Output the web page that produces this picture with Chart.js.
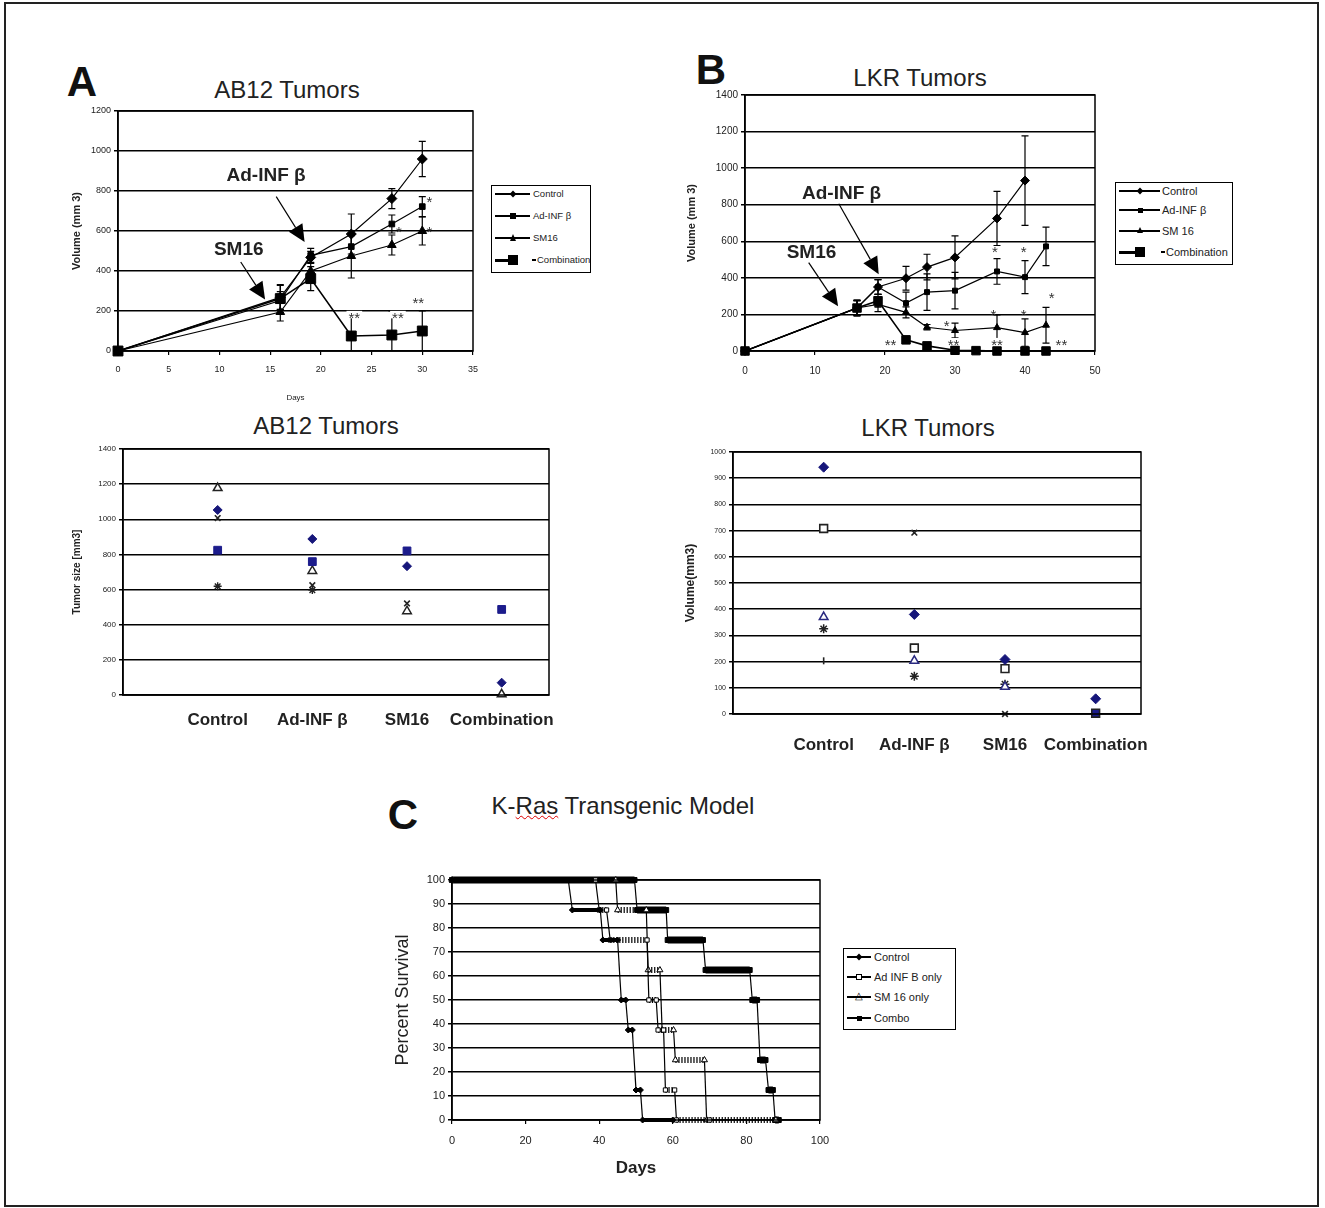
<!DOCTYPE html>
<html><head><meta charset="utf-8">
<script src="https://cdn.jsdelivr.net/npm/chart.js@4.4.1/dist/chart.umd.min.js"></script>
<style>
html,body{margin:0;padding:0;background:#fff;}
#page{position:relative;width:1325px;height:1208px;overflow:hidden;font-family:"Liberation Sans",Arial,sans-serif;color:#111;}
.frame{position:absolute;left:4px;top:2px;width:1311px;height:1201px;border:2px solid #222;}
canvas{position:absolute;}
.t{position:absolute;white-space:nowrap;transform:translate(-50%,-50%);line-height:1;}
.letter{font-weight:bold;font-size:42px;color:#111;}
.title{font-size:24px;color:#222;}
.legend{position:absolute;border:1.5px solid #000;background:#fff;box-sizing:border-box;}
.ln{position:absolute;background:#000;}
.mk{position:absolute;box-sizing:border-box;}
.lbl{position:absolute;white-space:nowrap;transform:translateY(-50%);line-height:1;color:#222;}
</style></head>
<body><div id="page">
<div class="frame"></div>
<div class="t letter" style="left:82px;top:82px">A</div>
<div class="t title" style="left:287px;top:90px">AB12 Tumors</div>
<div class="t letter" style="left:711px;top:70px">B</div>
<div class="t title" style="left:920px;top:78px">LKR Tumors</div>
<div class="t title" style="left:326px;top:426px">AB12 Tumors</div>
<div class="t title" style="left:928px;top:428px">LKR Tumors</div>
<div class="t letter" style="left:403px;top:815px">C</div>
<div class="t title" style="left:623px;top:806px">K-<span style="text-decoration:underline wavy #d00;text-decoration-thickness:1px;">Ras</span> Transgenic Model</div>
</div>
<script>
// ================= DATA =================
// Panel A (top): AB12 tumor growth, days vs volume (mm3)
const abDays = [0, 16, 19, 23, 27, 30];
const abControl = [0, 268, 468, 585, 762, 960];
const abControlErr = [0, 60, 30, 100, 50, 88];
const abAdInf = [0, 252, 478, 522, 635, 722];
const abAdInfErr = [0, 45, 35, 55, 45, 50];
const abSM16 = [0, 195, 400, 475, 530, 600];
const abSM16Err = [0, 45, 40, 110, 50, 70];
const abCombo = [0, 262, 362, 75, 80, 100];
const abComboErr = [0, 70, 60, 120, 120, 100];
const abStars = [
  {x: 30.7, y: 764, t: '*'}, {x: 27.7, y: 615, t: '*'}, {x: 30.7, y: 615, t: '*'},
  {x: 23.3, y: 182, t: '**'}, {x: 27.6, y: 182, t: '**'}, {x: 29.6, y: 259, t: '**'}
];
const abArrows = [
  {text: 'Ad-INF β', tx: 14.6, ty: 875, x1: 15.6, y1: 772, x2: 18.4, y2: 545},
  {text: 'SM16', tx: 11.9, ty: 505, x1: 12.1, y1: 445, x2: 14.5, y2: 258}
];

// Panel B (top): LKR tumor growth
const lkrControlDays = [0, 16, 19, 23, 26, 30, 36, 40];
const lkrControl = [0, 235, 350, 398, 459, 512, 725, 932];
const lkrControlErr = [0, 45, 40, 65, 70, 118, 148, 245];
const lkrAdInfDays = [0, 16, 19, 23, 26, 30, 36, 40, 43];
const lkrAdInf = [0, 235, 350, 262, 322, 330, 435, 404, 572];
const lkrAdInfErr = [0, 40, 40, 60, 100, 100, 70, 90, 105];
const lkrSM16Days = [0, 16, 19, 23, 26, 30, 36, 40, 43];
const lkrSM16 = [0, 235, 255, 211, 130, 112, 128, 101, 141];
const lkrSM16Err = [0, 40, 40, 30, 15, 40, 70, 75, 98];
const lkrComboDays = [0, 16, 19, 23, 26, 30, 33, 36, 40, 43];
const lkrCombo = [0, 235, 275, 61, 28, 4, 2, 0, 0, 0];
const lkrComboErr = [0, 40, 35, 0, 0, 0, 0, 0, 0, 0];
const lkrStars = [
  {x: 35.7, y: 560, t: '*'}, {x: 39.8, y: 560, t: '*'}, {x: 43.8, y: 308, t: '*'},
  {x: 28.8, y: 156, t: '*'}, {x: 35.5, y: 216, t: '*'}, {x: 39.8, y: 216, t: '*'},
  {x: 20.8, y: 51, t: '**'}, {x: 29.8, y: 51, t: '**'}, {x: 36, y: 51, t: '**'}, {x: 45.2, y: 51, t: '**'}
];
const lkrArrows = [
  {text: 'Ad-INF β', tx: 13.8, ty: 860, x1: 13.4, y1: 805, x2: 19.1, y2: 420},
  {text: 'SM16', tx: 9.5, ty: 535, x1: 9.1, y1: 483, x2: 13.3, y2: 245}
];

// Bottom scatter panels: individual tumors per group
const groups = ['Control', 'Ad-INF β', 'SM16', 'Combination'];
const abMouseDiamond = [1053, 888, 733, 70];
const abMouseSquare = [824, 759, 820, 487];
const abMouseTriangle = [1178, 706, 477, 4];
const abMouseCross = [1007, 625, 521, null];
const abMouseStar = [619, 597, null, null];

const lkrMouseDiamond = [942, 380, 208, 58];
const lkrMouseSquare = [708, 252, 173, 3];
const lkrMouseTriangle = [370, 203, 104, null];
const lkrMouseCross = [null, 692, 0, null];
const lkrMouseStar = [325, 144, 114, null];
const lkrMouseBar = [203, null, null, null];

// Panel C: K-Ras survival (percent) vs days
const krasControlDays = [0, 31.6, 32.7, 40.3, 41, 45, 46, 47.2, 47.9, 49, 50, 51.2, 51.8, 60];
const krasControl = [100, 100, 87.5, 87.5, 75, 75, 50, 50, 37.5, 37.5, 12.5, 12.5, 0, 0];
const krasAdInfDays = [0, 39, 40, 42, 43, 53, 53.5, 55.5, 56, 57.5, 58, 60.5, 61, 70];
const krasAdInf = [100, 100, 87.5, 87.5, 75, 75, 50, 50, 37.5, 37.5, 12.5, 12.5, 0, 0];
const krasSM16Days = [0, 44.5, 45, 52.8, 53.3, 56.5, 57.1, 60.2, 60.7, 68.6, 69.2, 88];
const krasSM16 = [100, 100, 87.5, 87.5, 62.5, 62.5, 37.5, 37.5, 25, 25, 0, 0];
const krasComboDays = [0, 49.6, 50.3, 58.2, 58.6, 68.2, 68.9, 80.9, 81.6, 82.9, 83.7, 85.2, 86, 87.2, 87.8, 88.8];
const krasCombo = [100, 100, 87.5, 87.5, 75, 75, 62.5, 62.5, 50, 50, 25, 25, 12.5, 12.5, 0, 0];

// ================= RENDERING =================
Chart.defaults.font.family = '"Liberation Sans", Arial, sans-serif';
Chart.defaults.color = '#222';
Chart.defaults.animation = false;
const FONT = '"Liberation Sans", Arial, sans-serif';
const page = document.getElementById('page');

const extras = {
  id: 'extras',
  beforeDatasetsDraw(chart, args, o) {
    if (!o || !o.errors) return;
    const {ctx, chartArea: ca} = chart; const xs = chart.scales.x, ys = chart.scales.y;
    ctx.save(); ctx.beginPath(); ctx.rect(ca.left, ca.top - 3, ca.width, ca.height + 3); ctx.clip();
    ctx.strokeStyle = '#000'; ctx.lineWidth = 1.2;
    o.errors.forEach((err, di) => {
      if (!err) return;
      chart.data.datasets[di].data.forEach((p, i) => {
        const e = err[i]; if (!e || p.y == null) return;
        const px = xs.getPixelForValue(p.x);
        const yt = ys.getPixelForValue(p.y + e), yb = ys.getPixelForValue(p.y - e);
        const c = 3.5;
        ctx.beginPath();
        ctx.moveTo(px, yt); ctx.lineTo(px, yb);
        ctx.moveTo(px - c, yt); ctx.lineTo(px + c, yt);
        ctx.moveTo(px - c, yb); ctx.lineTo(px + c, yb);
        ctx.stroke();
      });
    });
    ctx.restore();
  },
  afterDatasetsDraw(chart, args, o) {
    if (!o) return;
    const {ctx} = chart; const xs = chart.scales.x, ys = chart.scales.y;
    (o.stars || []).forEach(s => {
      const size = 15;
      ctx.save();
      ctx.font = size + 'px ' + FONT; ctx.textAlign = 'center'; ctx.textBaseline = 'alphabetic';
      const px = xs.getPixelForValue(s.x), py = ys.getPixelForValue(s.y);
      if (s.t.length > 1) {
        const w = ctx.measureText(s.t).width + 4;
        ctx.fillStyle = '#fff'; ctx.fillRect(px - w / 2, py - 0.25 * size, w, 0.5 * size);
      }
      ctx.fillStyle = '#333'; ctx.fillText(s.t, px, py + 0.58 * size);
      ctx.restore();
    });
    (o.arrows || []).forEach(a => {
      const x1 = xs.getPixelForValue(a.x1), y1 = ys.getPixelForValue(a.y1);
      const x2 = xs.getPixelForValue(a.x2), y2 = ys.getPixelForValue(a.y2);
      const ang = Math.atan2(y2 - y1, x2 - x1), hl = 17, hw = 8;
      const bx = x2 - hl * Math.cos(ang), by = y2 - hl * Math.sin(ang);
      ctx.save(); ctx.strokeStyle = '#000'; ctx.fillStyle = '#000'; ctx.lineWidth = 1.2;
      ctx.beginPath(); ctx.moveTo(x1, y1); ctx.lineTo(bx, by); ctx.stroke();
      ctx.beginPath(); ctx.moveTo(x2, y2);
      ctx.lineTo(bx + hw * Math.sin(ang), by - hw * Math.cos(ang));
      ctx.lineTo(bx - hw * Math.sin(ang), by + hw * Math.cos(ang));
      ctx.closePath(); ctx.fill();
      ctx.font = 'bold 19px ' + FONT; ctx.textAlign = 'center'; ctx.textBaseline = 'middle'; ctx.fillStyle = '#222';
      ctx.fillText(a.text, xs.getPixelForValue(a.tx), ys.getPixelForValue(a.ty));
      ctx.restore();
    });
  },
  afterDraw(chart) {
    const {ctx, chartArea: ca} = chart;
    ctx.save(); ctx.strokeStyle = '#000'; ctx.lineWidth = 1.5;
    ctx.strokeRect(ca.left, ca.top, ca.width, ca.height); ctx.restore();
  }
};

function makeCanvas(g) {
  const c = document.createElement('canvas');
  c.width = g.cw; c.height = g.ch;
  c.style.left = g.cx + 'px'; c.style.top = g.cy + 'px';
  c.style.width = g.cw + 'px'; c.style.height = g.ch + 'px';
  page.appendChild(c);
  return c.getContext('2d');
}
function yScale(g, o) {
  return {
    type: 'linear', position: 'left', min: o.min, max: o.max,
    ticks: {stepSize: o.step, font: {size: o.tickSize}, color: '#222', padding: 3, callback: v => String(v)},
    grid: {color: '#000', lineWidth: 1.5, tickLength: 4},
    border: {display: true, color: '#000', width: 1.5},
    title: {display: true, text: o.title, font: {size: o.titleSize, weight: o.titleWeight || 'bold'}, color: '#222', padding: {top: 0, bottom: 0}},
    afterFit: s => { s.width = g.L - g.cx; }
  };
}
function xScale(g, o) {
  const sc = {
    type: 'linear', position: 'bottom', min: o.min, max: o.max,
    ticks: {stepSize: o.step, font: {size: o.tickSize, weight: o.tickWeight || 'normal'}, color: '#222',
            padding: o.tickPad, maxRotation: 0, autoSkip: false, callback: v => String(v)},
    grid: {drawOnChartArea: false, color: '#000', lineWidth: 1.2, tickLength: o.tickLen || 0, drawTicks: !!o.tickLen},
    border: {display: true, color: '#000', width: 1.5},
    title: {display: !!o.title, text: o.title || '', font: {size: o.titleSize || 10, weight: o.titleWeight || 'normal'}, color: '#222', padding: {top: 0, bottom: 0}},
    afterFit: s => { s.height = g.cy + g.ch - g.B; }
  };
  if (o.cats) {
    sc.afterBuildTicks = s => { s.ticks = o.cats.map((c, i) => ({value: i + 1})); };
    sc.ticks.callback = v => o.cats[v - 1] || '';
  }
  return sc;
}
function opts(g, scales, ex) {
  return {
    responsive: false, maintainAspectRatio: false, animation: false, devicePixelRatio: 1, events: [],
    layout: {padding: {left: 0, top: g.T - g.cy, right: g.cx + g.cw - g.R, bottom: 0}},
    plugins: {legend: {display: false}, tooltip: {enabled: false}, title: {display: false}, extras: ex},
    scales
  };
}
const pts = (xs, ys) => xs.map((x, i) => ({x, y: ys[i]}));
const cat = ys => ys.map((y, i) => ({x: i + 1, y}));

// ---- Panel A top ----
const gA1 = {cx: 70, cy: 95, cw: 425, ch: 308, L: 118, T: 111, R: 473, B: 351};
new Chart(makeCanvas(gA1), {
  type: 'line',
  data: {datasets: [
    {label: 'Control', data: pts(abDays, abControl), pointStyle: 'rectRot', pointRadius: 5},
    {label: 'Ad-INF β', data: pts(abDays, abAdInf), pointStyle: 'rect', pointRadius: 4},
    {label: 'SM16', data: pts(abDays, abSM16), pointStyle: 'triangle', pointRadius: 5},
    {label: 'Combination', data: pts(abDays, abCombo), pointStyle: 'rect', pointRadius: 7, borderWidth: 1.6}
  ].map(d => Object.assign({borderColor: '#000', backgroundColor: '#000', borderWidth: 1.2, pointBorderWidth: 1, tension: 0, clip: false}, d))},
  options: opts(gA1, {
    x: xScale(gA1, {min: 0, max: 35, step: 5, tickSize: 9, tickPad: 9, tickLen: 4, title: 'Days', titleSize: 8}),
    y: yScale(gA1, {min: 0, max: 1200, step: 200, tickSize: 9, title: 'Volume (mm 3)', titleSize: 11})
  }, {errors: [abControlErr, abAdInfErr, abSM16Err, abComboErr], stars: abStars, arrows: abArrows}),
  plugins: [extras]
});

// ---- Panel B top ----
const gB1 = {cx: 685, cy: 80, cw: 435, ch: 310, L: 745, T: 95, R: 1095, B: 351};
new Chart(makeCanvas(gB1), {
  type: 'line',
  data: {datasets: [
    {label: 'Control', data: pts(lkrControlDays, lkrControl), pointStyle: 'rectRot', pointRadius: 4.5},
    {label: 'Ad-INF β', data: pts(lkrAdInfDays, lkrAdInf), pointStyle: 'rect', pointRadius: 3.5},
    {label: 'SM 16', data: pts(lkrSM16Days, lkrSM16), pointStyle: 'triangle', pointRadius: 4},
    {label: 'Combination', data: pts(lkrComboDays, lkrCombo), pointStyle: 'rect', pointRadius: 6, borderWidth: 1.6}
  ].map(d => Object.assign({borderColor: '#000', backgroundColor: '#000', borderWidth: 1.2, pointBorderWidth: 1, tension: 0, clip: false}, d))},
  options: opts(gB1, {
    x: xScale(gB1, {min: 0, max: 50, step: 10, tickSize: 10, tickPad: 10, tickLen: 4}),
    y: yScale(gB1, {min: 0, max: 1400, step: 200, tickSize: 10, title: 'Volume (mm 3)', titleSize: 11})
  }, {errors: [lkrControlErr, lkrAdInfErr, lkrSM16Err, lkrComboErr], stars: lkrStars, arrows: lkrArrows}),
  plugins: [extras]
});

// ---- Panel A bottom ----
const NAVY = '#16167a', NAVY2 = '#1c1c8c';
const gA2 = {cx: 71, cy: 432, cw: 520, ch: 313, L: 123, T: 449, R: 549, B: 695};
new Chart(makeCanvas(gA2), {
  type: 'line',
  data: {datasets: [
    {data: cat(abMouseDiamond), pointStyle: 'rectRot', pointRadius: 4.5, backgroundColor: NAVY, borderColor: NAVY},
    {data: cat(abMouseSquare), pointStyle: 'rect', pointRadius: 5.5, backgroundColor: NAVY2, borderColor: NAVY2},
    {data: cat(abMouseTriangle), pointStyle: 'triangle', pointRadius: 5, backgroundColor: '#fff', borderColor: '#222', pointBorderWidth: 1.5},
    {data: cat(abMouseCross), pointStyle: 'crossRot', pointRadius: 4, borderColor: '#222', pointBorderWidth: 1.6},
    {data: cat(abMouseStar), pointStyle: 'star', pointRadius: 4, borderColor: '#222', pointBorderWidth: 1.4}
  ].map(d => Object.assign({showLine: false, clip: false}, d))},
  options: opts(gA2, {
    x: xScale(gA2, {min: 0, max: 4.5, cats: groups, tickSize: 17, tickWeight: 'bold', tickPad: 15}),
    y: yScale(gA2, {min: 0, max: 1400, step: 200, tickSize: 8, title: 'Tumor size [mm3]', titleSize: 10})
  }, {}),
  plugins: [extras]
});

// ---- Panel B bottom ----
const gB2 = {cx: 683, cy: 437, cw: 500, ch: 333, L: 733, T: 452, R: 1141, B: 714};
new Chart(makeCanvas(gB2), {
  type: 'line',
  data: {datasets: [
    {data: cat(lkrMouseDiamond), pointStyle: 'rectRot', pointRadius: 5, backgroundColor: NAVY, borderColor: NAVY},
    {data: cat(lkrMouseSquare), pointStyle: 'rect', pointRadius: 5.5, backgroundColor: ['#fff', '#fff', '#fff', NAVY2], borderColor: '#222', pointBorderWidth: 1.6},
    {data: cat(lkrMouseTriangle), pointStyle: 'triangle', pointRadius: 5, backgroundColor: '#fff', borderColor: '#2a2a80', pointBorderWidth: 1.5},
    {data: cat(lkrMouseCross), pointStyle: 'crossRot', pointRadius: 4, borderColor: '#222', pointBorderWidth: 1.6},
    {data: cat(lkrMouseStar), pointStyle: 'star', pointRadius: 4.5, borderColor: '#222', pointBorderWidth: 1.5},
    {data: cat(lkrMouseBar), pointStyle: 'line', rotation: 90, pointRadius: 3.5, borderColor: '#222', pointBorderWidth: 1.6}
  ].map(d => Object.assign({showLine: false, clip: false}, d))},
  options: opts(gB2, {
    x: xScale(gB2, {min: 0, max: 4.5, cats: groups, tickSize: 17, tickWeight: 'bold', tickPad: 21}),
    y: yScale(gB2, {min: 0, max: 1000, step: 100, tickSize: 7, title: 'Volume(mm3)', titleSize: 12})
  }, {}),
  plugins: [extras]
});

// ---- Panel C ----
const gC = {cx: 392, cy: 865, cw: 455, ch: 314, L: 452, T: 880, R: 820, B: 1120};
const flat = c => c.p0.parsed.y === c.p1.parsed.y;
function kmSet(label, xs, ys, o) {
  return Object.assign({
    label, data: pts(xs, ys), borderColor: '#000', backgroundColor: '#000', borderWidth: 1.2,
    tension: 0, clip: false, pointBorderWidth: 1,
    segment: {
      borderWidth: c => flat(c) ? o.hw : 1.2,
      borderDash: c => (flat(c) && o.dash) ? o.dash : []
    }
  }, o.ds);
}
new Chart(makeCanvas(gC), {
  type: 'line',
  data: {datasets: [
    kmSet('Control', krasControlDays, krasControl, {hw: 4, ds: {pointStyle: 'rectRot', pointRadius: 3}}),
    kmSet('Ad INF B only', krasAdInfDays, krasAdInf, {hw: 6, dash: [1.2, 1.8], ds: {pointStyle: 'rect', pointRadius: 3, backgroundColor: '#fff'}}),
    kmSet('SM 16 only', krasSM16Days, krasSM16, {hw: 6, dash: [1.2, 1.8], ds: {pointStyle: 'triangle', pointRadius: 3.5, backgroundColor: '#fff'}}),
    kmSet('Combo', krasComboDays, krasCombo, {hw: 7, ds: {pointStyle: 'rect', pointRadius: 3.5}})
  ]},
  options: opts(gC, {
    x: xScale(gC, {min: 0, max: 100, step: 20, tickSize: 11, tickPad: 10, tickLen: 4, title: 'Days', titleSize: 17, titleWeight: 'bold'}),
    y: yScale(gC, {min: 0, max: 100, step: 10, tickSize: 11, title: 'Percent Survival', titleSize: 18, titleWeight: 'normal'})
  }, {}),
  plugins: [extras]
});

// ---- HTML legends ----
function marker(kind, x, y, s) {
  const m = document.createElement('div'); m.className = 'mk';
  const set = st => Object.assign(m.style, st);
  if (kind === 'diamond') set({left: (x - s / 2) + 'px', top: (y - s / 2) + 'px', width: s + 'px', height: s + 'px', background: '#000', transform: 'rotate(45deg) scale(0.8)'});
  else if (kind === 'square') set({left: (x - s / 2) + 'px', top: (y - s / 2) + 'px', width: s + 'px', height: s + 'px', background: '#000'});
  else if (kind === 'osquare') set({left: (x - s / 2) + 'px', top: (y - s / 2) + 'px', width: s + 'px', height: s + 'px', background: '#fff', border: '1px solid #000'});
  else if (kind === 'triangle') set({left: (x - s / 2) + 'px', top: (y - s / 2 - 1) + 'px', width: 0, height: 0, borderLeft: (s / 2) + 'px solid transparent', borderRight: (s / 2) + 'px solid transparent', borderBottom: s + 'px solid #000'});
  else if (kind === 'otriangle') { m.textContent = '△'; set({left: (x - s / 2 - 1) + 'px', top: (y - s / 2 - 3) + 'px', fontSize: (s + 3) + 'px', lineHeight: 1, color: '#000', background: 'transparent'}); }
  return m;
}
function legend(b, rows) {
  const d = document.createElement('div'); d.className = 'legend';
  Object.assign(d.style, {left: b.x + 'px', top: b.y + 'px', width: b.w + 'px', height: b.h + 'px'});
  rows.forEach(r => {
    const ln = document.createElement('div'); ln.className = 'ln';
    const x1 = r.short ? b.mx : b.lx1;
    Object.assign(ln.style, {left: b.lx0 + 'px', width: (x1 - b.lx0) + 'px', top: (r.y - r.lw / 2) + 'px', height: r.lw + 'px'});
    d.appendChild(ln);
    d.appendChild(marker(r.m, b.mx, r.y, r.s));
    let tx = b.tx;
    if (r.short) {
      const ds = document.createElement('div'); ds.className = 'ln';
      Object.assign(ds.style, {left: (b.tx - 1) + 'px', width: '4px', top: (r.y - 0.75) + 'px', height: '1.5px'});
      d.appendChild(ds); tx = b.tx + 4;
    }
    const t = document.createElement('div'); t.className = 'lbl'; t.textContent = r.label;
    Object.assign(t.style, {left: tx + 'px', top: r.y + 'px', fontSize: b.fs + 'px'});
    d.appendChild(t);
  });
  page.appendChild(d);
}
legend({x: 491, y: 185, w: 100, h: 88, lx0: 3, lx1: 38, mx: 21, tx: 41, fs: 9.5}, [
  {label: 'Control', y: 8, lw: 1.2, m: 'diamond', s: 6},
  {label: 'Ad-INF β', y: 30, lw: 1.2, m: 'square', s: 6},
  {label: 'SM16', y: 52, lw: 1.2, m: 'triangle', s: 7},
  {label: 'Combination', y: 74, lw: 3, m: 'square', s: 10, short: true}
]);
legend({x: 1115, y: 182, w: 118, h: 83, lx0: 3, lx1: 44, mx: 24, tx: 46, fs: 11}, [
  {label: 'Control', y: 8, lw: 1.2, m: 'diamond', s: 6},
  {label: 'Ad-INF β', y: 27, lw: 1.2, m: 'square', s: 5},
  {label: 'SM 16', y: 48, lw: 1.2, m: 'triangle', s: 6},
  {label: 'Combination', y: 69, lw: 3, m: 'square', s: 10, short: true}
]);
legend({x: 843, y: 948, w: 113, h: 82, lx0: 3, lx1: 27, mx: 15, tx: 30, fs: 11}, [
  {label: 'Control', y: 8, lw: 1.2, m: 'diamond', s: 6},
  {label: 'Ad INF B only', y: 28, lw: 1.2, m: 'osquare', s: 6},
  {label: 'SM 16 only', y: 48, lw: 1.2, m: 'otriangle', s: 7},
  {label: 'Combo', y: 69, lw: 1.2, m: 'square', s: 5}
]);
</script>
</body></html>
